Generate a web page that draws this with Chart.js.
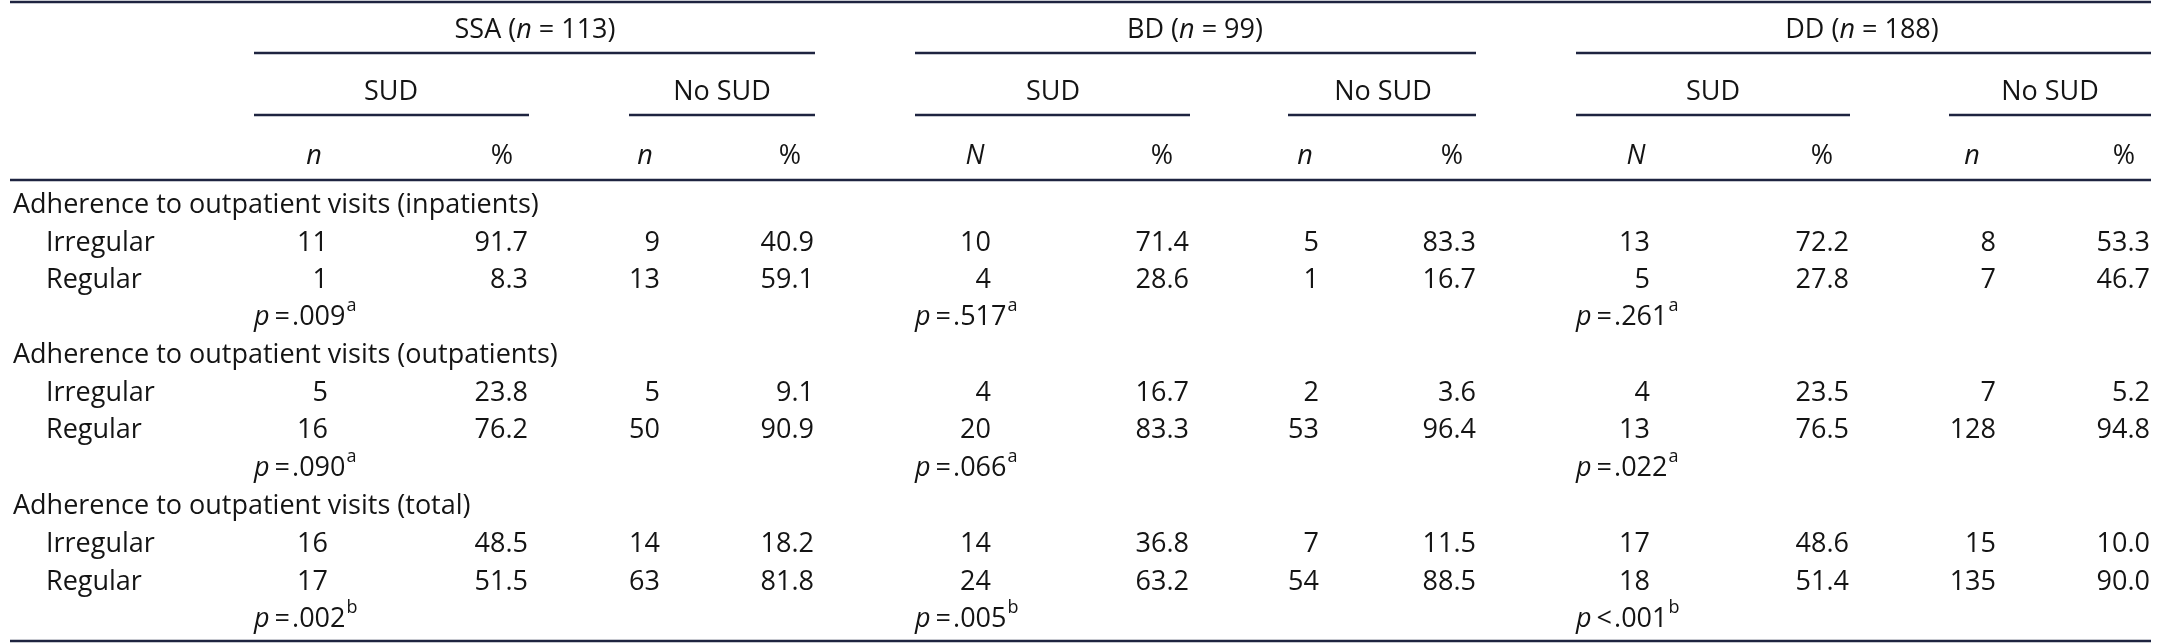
<!DOCTYPE html>
<html><head><meta charset="utf-8">
<script src="https://cdn.jsdelivr.net/npm/chart.js@4/dist/chart.umd.min.js"></script>
<style>html,body{margin:0;padding:0;background:#fff}#wrap{width:2161px;height:644px}</style>
</head><body><div id="wrap"><canvas id="c"></canvas></div>
<script>
// ---- data ----
const groups = ["SSA (n = 113)", "BD (n = 99)", "DD (n = 188)"];
const groupNames = ["SSA", "BD", "DD"];
const groupN = [113, 99, 188];
const subHeaders = ["SUD", "No SUD"];
const colHeaders = ["n","%","n","%","N","%","n","%","N","%","n","%"];
const sectionTitles = ["Adherence to outpatient visits (inpatients)","Adherence to outpatient visits (outpatients)","Adherence to outpatient visits (total)"];
const rowLabels = ["Irregular","Regular"];
const ssaSudN = [11,1,5,16,16,17];
const ssaSudPct = ["91.7","8.3","23.8","76.2","48.5","51.5"];
const ssaNoN = [9,13,5,50,14,63];
const ssaNoPct = ["40.9","59.1","9.1","90.9","18.2","81.8"];
const bdSudN = [10,4,4,20,14,24];
const bdSudPct = ["71.4","28.6","16.7","83.3","36.8","63.2"];
const bdNoN = [5,1,2,53,7,54];
const bdNoPct = ["83.3","16.7","3.6","96.4","11.5","88.5"];
const ddSudN = [13,5,4,13,17,18];
const ddSudPct = ["72.2","27.8","23.5","76.5","48.6","51.4"];
const ddNoN = [8,7,7,128,15,135];
const ddNoPct = ["53.3","46.7","5.2","94.8","10.0","90.0"];
const pRel = [["=",".009","a"],["=",".090","a"],["=",".002","b"]];
const pBD = [["=",".517","a"],["=",".066","a"],["=",".005","b"]];
const pDD = [["=",".261","a"],["=",".022","a"],["<",".001","b"]];
const pvals = [pRel, pBD, pDD];

// ---- layout (positions, not data) ----
const L = {
  colRight:[328,528,660,814,991,1189,1319,1476,1650,1849,1996,2150],
  colHead:[314,502,645,790,975,1162,1305,1452,1636,1822,1972,2124],
  groupCenter:[535,1195,1862],
  groupSpan:[[254,815],[915,1476],[1576,2151]],
  subCenter:[[391,722],[1053,1383],[1713,2050]],
  subSpan:[[[254,529],[629,815]],[[915,1190],[1288,1476]],[[1576,1850],[1949,2151]]],
  yH1:30, yR1:53, yH2:92, yR2:115, yH3:156, yR3:180, yTop:2, yBot:641,
  body:[205,243,280,317,355,393,430,468,506,544,582,619],
  xLabel:13, xIndent:46, xLeft:10, xRight:2151
};
const FONT = '"Liberation Sans Narrow","Open Sans",sans-serif';
const FS = 27;
const INK = '#141414', RULE = '#1e2440';

const cols = [ssaSudN,ssaSudPct,ssaNoN,ssaNoPct,bdSudN,bdSudPct,bdNoN,bdNoPct,ddSudN,ddSudPct,ddNoN,ddNoPct];
const bodyRowOf = (i)=> L.body[Math.floor(i/2)*4 + 1 + (i%2)];
const datasets = cols.map((arr,ci)=>({
  label:'c'+ci,
  data: arr.map((v,i)=>({x:L.colRight[ci], y:bodyRowOf(i), t:String(v)})),
  pointRadius:0, showLine:false
}));

const tablePlugin = {
  id:'table',
  afterDatasetsDraw(chart){
    const ctx = chart.ctx, xs = chart.scales.x, ys = chart.scales.y;
    const X = v=>xs.getPixelForValue(v), Y = v=>ys.getPixelForValue(v);
    ctx.save();
    ctx.textBaseline='middle';
    const font=(it,sz)=>ctx.font=(it?'italic ':'')+(sz||FS)+'px '+FONT;
    // rules
    ctx.strokeStyle=RULE;
    const hline=(x1,x2,y,w)=>{ctx.lineWidth=w;ctx.beginPath();ctx.moveTo(X(x1),Y(y));ctx.lineTo(X(x2),Y(y));ctx.stroke();};
    hline(L.xLeft,L.xRight,L.yTop,2.5);
    hline(L.xLeft,L.xRight,L.yR3,2.5);
    hline(L.xLeft,L.xRight,L.yBot,2.5);
    L.groupSpan.forEach(s=>hline(s[0],s[1],L.yR1,2.5));
    L.subSpan.forEach(g=>g.forEach(s=>hline(s[0],s[1],L.yR2,2.5)));
    ctx.fillStyle=INK;
    // group headers: "SSA (n = 113)"
    groupNames.forEach((g,gi)=>{
      const parts=[[g+' (',false],['n',true],[' = '+groupN[gi]+')',false]];
      let w=0; parts.forEach(p=>{font(p[1]);w+=ctx.measureText(p[0]).width;});
      let x=X(L.groupCenter[gi])-w/2;
      ctx.textAlign='left';
      parts.forEach(p=>{font(p[1]);ctx.fillText(p[0],x,Y(L.yH1));x+=ctx.measureText(p[0]).width;});
    });
    font(false);ctx.textAlign='center';
    L.subCenter.forEach(g=>g.forEach((c,si)=>ctx.fillText(subHeaders[si],X(c),Y(L.yH2))));
    colHeaders.forEach((h,ci)=>{font(h!=='%');ctx.fillText(h,X(L.colHead[ci]),Y(L.yH3));});
    // row labels
    ctx.textAlign='left';font(false);
    sectionTitles.forEach((t,si)=>{
      ctx.fillText(t,X(L.xLabel),Y(L.body[si*4]));
      rowLabels.forEach((r,ri)=>ctx.fillText(r,X(L.xIndent),Y(L.body[si*4+1+ri])));
    });
    // cells from datasets through scales
    ctx.textAlign='right';font(false);
    chart.data.datasets.forEach((ds,di)=>{
      const meta=chart.getDatasetMeta(di);
      meta.data.forEach((el,i)=>ctx.fillText(ds.data[i].t,el.x,el.y));
    });
    // p values
    pvals.forEach((g,gi)=>g.forEach((p,si)=>{
      let x=X(L.groupSpan[gi][0]); const y=Y(L.body[si*4+3]);
      ctx.textAlign='left';
      font(true);ctx.fillText('p',x,y);x+=ctx.measureText('p ').width-2;
      font(false);ctx.fillText(p[0],x,y);x+=ctx.measureText(p[0]).width+2;
      ctx.fillText(p[1],x,y);x+=ctx.measureText(p[1]).width+1;
      font(false,18);ctx.fillText(p[2],x,y-11);
    }));
    ctx.restore();
  }
};

new Chart(document.getElementById('c'),{
  type:'scatter',
  data:{datasets},
  options:{
    responsive:true, maintainAspectRatio:false, animation:false,
    layout:{padding:0},
    plugins:{legend:{display:false},tooltip:{enabled:false}},
    scales:{
      x:{type:'linear',min:0,max:2161,display:false},
      y:{type:'linear',min:0,max:644,reverse:true,display:false}
    }
  },
  plugins:[tablePlugin]
});
</script></body></html>
